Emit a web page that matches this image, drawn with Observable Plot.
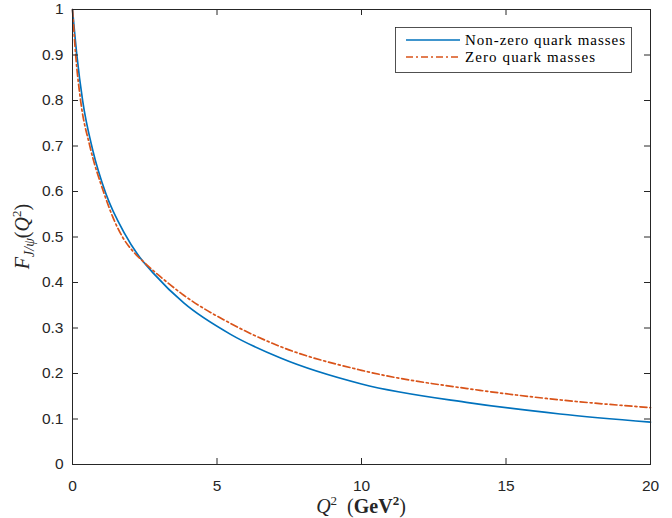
<!DOCTYPE html>
<html><head><meta charset="utf-8">
<script src="https://cdn.jsdelivr.net/npm/d3@7"></script>
<script src="https://cdn.jsdelivr.net/npm/@observablehq/plot@0.6"></script>
<style>body{margin:0;background:#fff;} #chart svg{display:block;}</style>
</head><body><div id="chart"></div>
<script>
const seriesNames = ["Non-zero quark masses", "Zero quark masses"];
const qNonZero = [0, 0.15, 0.35, 0.7, 1.15, 1.8, 2.25, 2.82, 3.85, 5.47, 7.2, 10, 13.75, 16.87, 20];
const fNonZero = [1.0, 0.9, 0.8, 0.691, 0.596, 0.508, 0.462, 0.419, 0.355, 0.286, 0.234, 0.177, 0.1356, 0.111, 0.093];
const qZero = [0, 0.11, 0.28, 0.6, 1.07, 1.4, 1.73, 2.1, 2.5, 3.0, 3.85, 5.47, 7.2, 10, 14.1, 16.87, 20];
const fZero = [1.0, 0.9, 0.8, 0.7, 0.6, 0.543, 0.5, 0.468, 0.443, 0.415, 0.372, 0.31, 0.259, 0.207, 0.163, 0.142, 0.125];
const xTicks = [0, 5, 10, 15, 20];
const yTicks = [0, 0.1, 0.2, 0.3, 0.4, 0.5, 0.6, 0.7, 0.8, 0.9, 1];
const colors = ["#0072BD", "#D95319"];

const nonZero = qNonZero.map((q, i) => ({series: seriesNames[0], q, f: fNonZero[i]}));
const zero = qZero.map((q, i) => ({series: seriesNames[1], q, f: fZero[i]}));

const W = 672, H = 518, mL = 72, mR = 22, mT = 9, mB = 54;
const pw = W - mL - mR, ph = H - mT - mB;
const axisColor = "#262626";

const plot = Plot.plot({
  width: W, height: H,
  marginLeft: mL, marginRight: mR, marginTop: mT, marginBottom: mB,
  style: {fontFamily: "'Liberation Sans', Arial, sans-serif", fontSize: "15.5px", color: axisColor, background: "#fff", overflow: "visible"},
  x: {domain: [0, 20]},
  y: {domain: [0, 1]},
  marks: [
    Plot.line(nonZero, {x: "q", y: "f", stroke: colors[0], strokeWidth: 1.7, curve: "monotone-x"}),
    Plot.line(zero, {x: "q", y: "f", stroke: colors[1], strokeWidth: 1.7, curve: "monotone-x", strokeDasharray: "7,3,2,3"}),
    Plot.tickY(yTicks, {y: d => d, insetRight: pw - 6, stroke: axisColor}),
    Plot.tickY(yTicks, {y: d => d, insetLeft: pw - 6, stroke: axisColor}),
    Plot.tickX(xTicks, {x: d => d, insetTop: ph - 6, stroke: axisColor}),
    Plot.tickX(xTicks, {x: d => d, insetBottom: ph - 6, stroke: axisColor}),
    Plot.axisY(yTicks, {tickSize: 0, tickPadding: 9, label: null, tickFormat: d => String(d)}),
    Plot.axisX(xTicks, {tickSize: 0, tickPadding: 15, label: null, tickFormat: d => String(d)}),
    Plot.frame({stroke: axisColor, strokeWidth: 1})
  ]
});
document.getElementById("chart").appendChild(plot);

const svg = d3.select(plot);
const serif = "'Liberation Serif', 'DejaVu Serif', serif";

// x-axis title: Q^2 (GeV^2)
const xt = svg.append("text").attr("x", mL + pw / 2).attr("y", 513).attr("text-anchor", "middle")
  .attr("font-family", serif).attr("font-size", 20).attr("fill", axisColor);
xt.append("tspan").attr("font-style", "italic").text("Q");
xt.append("tspan").attr("font-size", 13).attr("dy", -8).text("2");
xt.append("tspan").attr("dy", 8).text("\u2002(");
xt.append("tspan").attr("font-weight", "bold").text("GeV");
xt.append("tspan").attr("font-size", 13).attr("font-weight", "bold").attr("dy", -8).text("2");
xt.append("tspan").attr("dy", 8).text(")");

// y-axis title: F_{J/psi}(Q^2)
const yt = svg.append("text").attr("transform", `translate(29,${mT + ph / 2}) rotate(-90)`).attr("text-anchor", "middle")
  .attr("font-family", serif).attr("font-size", 20).attr("fill", axisColor);
yt.append("tspan").attr("font-style", "italic").text("F");
yt.append("tspan").attr("font-style", "italic").attr("font-size", 14).attr("dy", 5).text("J/\u03C8");
yt.append("tspan").attr("dy", -5).text("(");
yt.append("tspan").attr("font-style", "italic").text("Q");
yt.append("tspan").attr("font-size", 13).attr("dy", -8).text("2");
yt.append("tspan").attr("dy", 8).text(")");

// legend
const lg = svg.append("g").attr("font-family", serif).attr("font-size", 15).attr("fill", "#000").attr("text-anchor", "start");
lg.append("rect").attr("x", 395.5).attr("y", 27.5).attr("width", 236).attr("height", 45)
  .attr("fill", "#fff").attr("stroke", axisColor).attr("stroke-width", 0.8);
const rows = [{y: 40, dash: null, len: 160}, {y: 57, dash: "7,3,2,3", len: 130}];
rows.forEach((r, i) => {
  const ln = lg.append("line").attr("x1", 406).attr("x2", 460).attr("y1", r.y).attr("y2", r.y)
    .attr("stroke", colors[i]).attr("stroke-width", 1.7);
  if (r.dash) ln.attr("stroke-dasharray", r.dash);
  lg.append("text").attr("x", 465).attr("y", r.y).attr("dy", "0.33em").attr("text-anchor", "start")
    .attr("textLength", r.len).attr("lengthAdjust", "spacing").text(seriesNames[i]);
});
</script>
</body></html>
